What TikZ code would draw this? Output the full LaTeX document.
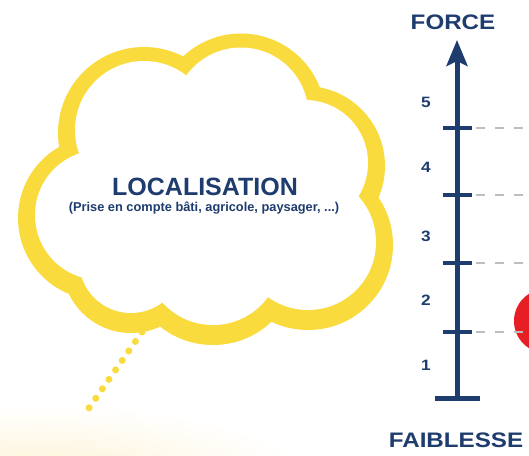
\documentclass[tikz,border=0pt]{standalone}
\usepackage{fontspec}
\setmainfont{Liberation Sans}
\newfontfamily\widefont[FakeStretch=1.15]{Liberation Sans}
\usetikzlibrary{arrows.meta}

\definecolor{navy}{RGB}{30,60,110}
\definecolor{cloudyellow}{RGB}{250,219,62}
\definecolor{glowyellow}{RGB}{252,242,210}
\definecolor{guidegray}{RGB}{190,190,190}
\definecolor{spotred}{RGB}{232,30,37}

\newcommand{\cloudlobes}{(144,130) circle[radius=69] (241,115) circle[radius=67.5] (305,163) circle[radius=63] (308,242) circle[radius=68] (213,257) circle[radius=68] (131,261) circle[radius=52] (100,215) circle[radius=65]}

\tikzset{
  title/.style={inner sep=0pt, anchor=base, text=navy, font=\fontsize{25}{30}\selectfont\bfseries},
  subtitle/.style={inner sep=0pt, anchor=base, text=navy, font=\fontsize{12.8}{15}\selectfont\bfseries},
  axislabel/.style={inner sep=0pt, anchor=base, text=navy, font=\widefont\fontsize{21}{25}\selectfont\bfseries},
  level/.style={inner sep=0pt, anchor=base, text=navy, font=\widefont\fontsize{15}{18}\selectfont\bfseries},
  axisline/.style={draw=navy, line width=5pt},
  tickline/.style={draw=navy, line width=4.5pt},
  guide/.style={draw=guidegray, line width=2.5pt, dash pattern=on 9pt off 10pt},
  cloudband/.style={draw=cloudyellow},
  tail/.style={draw=cloudyellow, line width=7pt, line cap=round, dash pattern=on 0pt off 11.55pt}
}

\begin{document}
\begin{tikzpicture}[x=1pt, y=-1pt]
            \clip (0,0) rectangle (529,455);
            \fill[white] (0,0) rectangle (529,455);
            \shade[inner color=glowyellow, outer color=white] (40,482) ellipse[x radius=270, y radius=78];

            \draw[cloudband, line width=34pt, shift={(0,3)}] \cloudlobes;
            \draw[cloudband, line width=26pt] \cloudlobes;
            \fill[white] \cloudlobes;
            \fill[white] (210,190) ellipse[x radius=100, y radius=70];

            \node[title] (loc) at (205,195) {LOCALISATION};
            \node[subtitle] (prise) at (204,211) {(Prise en compte bâti, agricole, paysager, ...)};

            \coordinate (tailtop) at (142,332);
            \coordinate (tailend) at (89,408);
            \draw[tail] (tailtop) -- (tailend);

            \fill[spotred] (546,321) circle[radius=32];

            \coordinate (base) at (457,398);
            \coordinate (top) at (457,40);
            \coordinate (t1) at (457,332);
            \coordinate (t2) at (457,263);
            \coordinate (t3) at (457,195);
            \coordinate (t4) at (457,128);

            \draw[guide] ([xshift=19pt]t1) -- ([xshift=90pt]t1); \draw[guide] ([xshift=19pt]t2) -- ([xshift=90pt]t2);
            \draw[guide] ([xshift=19pt]t3) -- ([xshift=90pt]t3); \draw[guide] ([xshift=19pt]t4) -- ([xshift=90pt]t4);

            \draw[axisline, -{Stealth[length=26pt, width=21pt, inset=5pt]}] (base) -- (top);
            \draw[axisline] ([xshift=-22pt]base) -- ([xshift=23pt]base);
            \draw[tickline] ([xshift=-14pt]t1) -- ([xshift=15pt]t1); \draw[tickline] ([xshift=-14pt]t2) -- ([xshift=15pt]t2);
            \draw[tickline] ([xshift=-14pt]t3) -- ([xshift=15pt]t3); \draw[tickline] ([xshift=-14pt]t4) -- ([xshift=15pt]t4);

            \node[level] (n1) at (426,370) {1};
            \node[level] (n2) at (426,305) {2};
            \node[level] (n3) at (426,241) {3};
            \node[level] (n4) at (426,172) {4};
            \node[level] (n5) at (426,107) {5};

            \node[axislabel] (force) at (453,29) {FORCE};
            \node[axislabel] (faiblesse) at (456,447) {FAIBLESSE};
        \end{tikzpicture}
\end{document}
